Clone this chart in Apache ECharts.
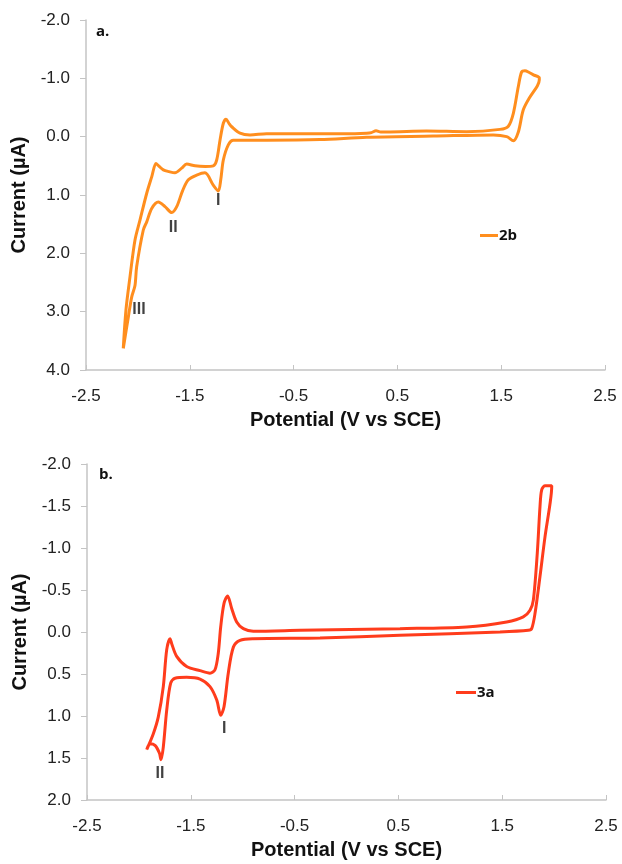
<!DOCTYPE html>
<html>
<head>
<meta charset="utf-8">
<script src="https://cdn.jsdelivr.net/npm/echarts@6/dist/echarts.min.js"></script>
<style>
  html, body { margin: 0; padding: 0; background: #fff; }
  #chart { width: 622px; height: 864px; }
</style>
</head>
<body>
<div id="chart"></div>
<script>
// CV loop of 2b (panel a), potential in V vs SCE, current in uA
const potential2b = [
  -2.141, -2.115, -2.076, -2.028, -1.980, -1.915, -1.867, -1.826, -1.800, -1.755,
  -1.700, -1.643, -1.578, -1.530, -1.450, -1.350, -1.274, -1.241, -1.209, -1.177,
  -1.151, -1.120, -1.096, -1.016, -0.920, -0.760, -0.400, 0.000, 0.204, 0.250,
  0.294, 0.340, 0.397, 0.780, 1.167, 1.488, 1.569, 1.617, 1.665, 1.697,
  1.729, 1.770, 1.810, 1.867,
  1.867, 1.848, 1.777, 1.713, 1.665, 1.617, 1.553, 1.424, 0.846, 0.204,
  -0.246, -0.760, -1.080, -1.129, -1.177, -1.202, -1.225, -1.274, -1.354, -1.434,
  -1.514, -1.568, -1.626, -1.674, -1.739, -1.803, -1.867, -1.915, -1.948, -2.012,
  -2.028, -2.060, -2.092, -2.141
]
const current2b = [
  3.63, 2.97, 2.40, 1.77, 1.43, 0.97, 0.69, 0.46, 0.50, 0.57,
  0.60, 0.62, 0.54, 0.47, 0.50, 0.51, 0.50, 0.40, 0.06, -0.23,
  -0.30, -0.22, -0.17, -0.06, -0.03, -0.05, -0.05, -0.05, -0.06, -0.07,
  -0.10, -0.08, -0.08, -0.096, -0.086, -0.125, -0.18, -0.40, -0.86, -1.11,
  -1.13, -1.10, -1.06, -1.01,
  -0.97, -0.87, -0.68, -0.46, -0.08, 0.07, 0.00, -0.03, -0.01, 0.01,
  0.05, 0.06, 0.06, 0.14, 0.40, 0.74, 0.93, 0.83, 0.62, 0.66,
  0.74, 0.92, 1.20, 1.30, 1.20, 1.12, 1.23, 1.46, 1.60, 2.23,
  2.55, 2.75, 3.09, 3.63
]

// CV loop of 3a (panel b)
const potential3a = [
  -1.925, -1.893, -1.845, -1.803, -1.787, -1.765, -1.732, -1.694, -1.652, -1.540,
  -1.411, -1.315, -1.250, -1.212, -1.180, -1.139, -1.090, -1.026, -0.898, -0.255,
  0.515, 1.479, 1.751, 1.784, 1.816, 1.864, 1.912, 1.961, 1.977, 1.977,
  1.912, 1.880, 1.864, 1.838, 1.800, 1.768, 1.703, 1.543, 1.158, 0.515,
  -0.448, -0.898, -0.994, -1.058, -1.106, -1.145, -1.180, -1.212, -1.235, -1.267,
  -1.315, -1.411, -1.540, -1.636, -1.684, -1.700, -1.732, -1.765, -1.813, -1.861,
  -1.925
]
const current3a = [
  1.40, 1.33, 1.35, 1.44, 1.52, 1.37, 0.93, 0.61, 0.55, 0.54,
  0.56, 0.65, 0.81, 0.99, 0.89, 0.49, 0.18, 0.10, 0.08, 0.07,
  0.04, 0.00, -0.02, -0.04, -0.22, -0.66, -1.13, -1.53, -1.73, -1.74,
  -1.74, -1.69, -1.49, -0.94, -0.38, -0.26, -0.18, -0.12, -0.06, -0.04,
  -0.02, -0.01, -0.04, -0.12, -0.28, -0.43, -0.34, -0.06, 0.25, 0.45,
  0.49, 0.46, 0.41, 0.29, 0.14, 0.08, 0.21, 0.65, 1.01, 1.21,
  1.40
]

// peak labels [potential, current, text]
const peaks2b = [[-1.225, 1.10, 'I'], [-1.659, 1.56, 'II'], [-1.989, 2.97, 'III']]
const peaks3a = [[-1.177, 1.15, 'I'], [-1.797, 1.68, 'II']]

const xTicks = [-2.5, -1.5, -0.5, 0.5, 1.5, 2.5]

const zip = (xs, ys) => xs.map((x, i) => [x, ys[i]])

const axisFont = 'Liberation Sans, Arial, sans-serif'
const gray = '#c4c4c4'

function xAxisFor (gridIndex) {
  return {
    type: 'value',
    gridIndex: gridIndex,
    min: -2.5,
    max: 2.5,
    name: 'Potential (V vs SCE)',
    nameLocation: 'middle',
    nameGap: 40,
    nameTextStyle: { fontFamily: axisFont, fontWeight: 'bold', fontSize: 20, color: '#111' },
    axisLine: { onZero: false, lineStyle: { color: gray, width: 1.5 } },
    axisTick: { show: true, inside: true, length: 5, customValues: xTicks, lineStyle: { color: gray } },
    axisLabel: { customValues: xTicks, margin: 18, fontFamily: axisFont, fontSize: 17, color: '#222',
      formatter: v => v.toFixed(1) },
    splitLine: { show: false }
  }
}

function yAxisFor (gridIndex, max, step) {
  return {
    type: 'value',
    gridIndex: gridIndex,
    inverse: true,
    min: -2,
    max: max,
    interval: step,
    name: 'Current (µA)',
    nameLocation: 'middle',
    nameGap: 48,
    nameTextStyle: { fontFamily: axisFont, fontWeight: 'bold', fontSize: 20, color: '#111' },
    axisLine: { show: true, onZero: false, lineStyle: { color: gray, width: 1.5 } },
    axisTick: { show: true, length: 6, lineStyle: { color: gray } },
    axisLabel: { margin: 16, fontFamily: axisFont, fontSize: 17, color: '#222',
      formatter: v => v.toFixed(1) },
    splitLine: { show: false }
  }
}

function peakSeries (idx, peaks) {
  return {
    type: 'scatter',
    xAxisIndex: idx,
    yAxisIndex: idx,
    symbolSize: 0,
    silent: true,
    data: peaks.map(p => ({ value: [p[0], p[1]], name: p[2] })),
    label: { show: true, position: 'inside', formatter: '{b}', fontFamily: axisFont,
      fontSize: 16, fontWeight: 'bold', color: '#111' }
  }
}

const legendText = { fontFamily: 'Open Sans, sans-serif', fontWeight: 'bold', fontSize: 15, color: '#111', padding: [0, 0, 0, -4] }

const chart = echarts.init(document.getElementById('chart'), null, { renderer: 'canvas' })
chart.setOption({
  backgroundColor: '#fff',
  animation: false,
  grid: [
    { left: 86, top: 20, width: 519, height: 350 },
    { left: 87, top: 464, width: 519, height: 336 }
  ],
  xAxis: [xAxisFor(0), xAxisFor(1)],
  yAxis: [yAxisFor(0, 4, 1), yAxisFor(1, 2, 0.5)],
  legend: [
    { data: ['2b'], icon: 'rect', padding: 0, left: 480, top: 228, itemWidth: 18, itemHeight: 3, textStyle: legendText },
    { data: ['3a'], icon: 'rect', padding: 0, left: 456, top: 685, itemWidth: 20, itemHeight: 3, textStyle: legendText }
  ],
  graphic: [
    { type: 'text', left: 96, top: 24, style: { text: 'a.', font: 'bold 15px Open Sans, sans-serif', fill: '#111' } },
    { type: 'text', left: 99, top: 467, style: { text: 'b.', font: 'bold 15px Open Sans, sans-serif', fill: '#111' } }
  ],
  series: [
    {
      name: '2b',
      type: 'line',
      xAxisIndex: 0,
      yAxisIndex: 0,
      data: zip(potential2b, current2b),
      symbol: 'none',
      smooth: 0.3,
      color: '#FF8E1E',
      lineStyle: { width: 3, color: '#FF8E1E' }
    },
    {
      name: '3a',
      type: 'line',
      xAxisIndex: 1,
      yAxisIndex: 1,
      data: zip(potential3a, current3a),
      symbol: 'none',
      smooth: 0.3,
      color: '#FF3C1C',
      lineStyle: { width: 3, color: '#FF3C1C' }
    },
    peakSeries(0, peaks2b),
    peakSeries(1, peaks3a)
  ]
})
</script>
</body>
</html>
